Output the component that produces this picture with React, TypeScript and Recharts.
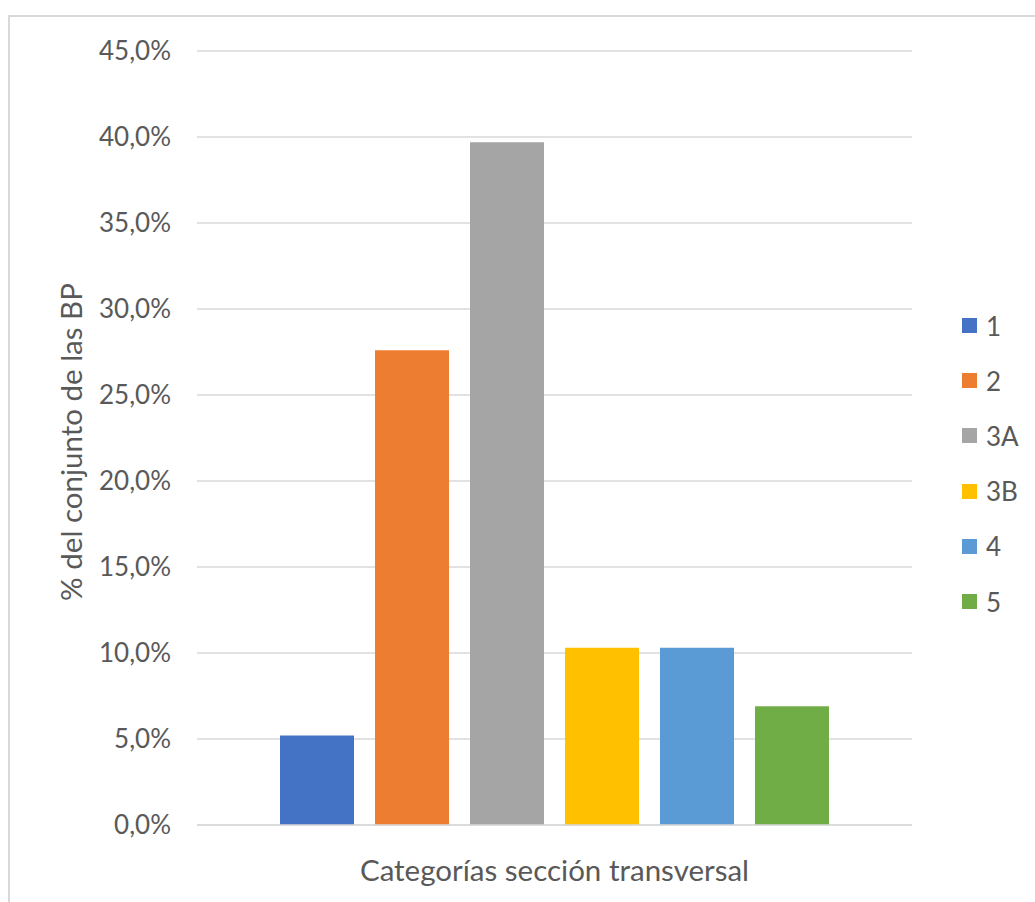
import React from 'react';
import { BarChart, Bar, XAxis, YAxis, CartesianGrid, Legend } from 'recharts';

// Share of the BP set per cross-section category
const categories = ['Categorías sección transversal'];
const seriesNames = ['1', '2', '3A', '3B', '4', '5'];
const seriesValues = [5.2, 27.6, 39.7, 10.3, 10.3, 6.9];
const yTicks = [0, 5, 10, 15, 20, 25, 30, 35, 40, 45];
const yAxisTitle = '% del conjunto de las BP';

const COLORS = ['#4472C4', '#ED7D31', '#A5A5A5', '#FFC000', '#5B9BD5', '#70AD47'];
const FONT = 'Lato, "Open Sans", sans-serif';
const TEXT = '#595959';
const GRID = '#d9d9d9';

const data = categories.map((cat) => {
  const row: Record<string, string | number> = { cat };
  seriesNames.forEach((_, i) => {
    row['s' + i] = seriesValues[i];
  });
  return row;
});

const fmtPct = (v: number) => v.toFixed(1).replace('.', ',') + '%';

const renderLegend = (props: any) => (
  <div style={{ fontFamily: FONT, fontSize: 26, color: TEXT }}>
    {(props.payload || []).map((entry: any) => (
      <div
        key={entry.value}
        style={{ display: 'flex', alignItems: 'center', height: 55.2 }}
      >
        <span
          style={{
            display: 'inline-block',
            width: 15,
            height: 15,
            background: entry.color,
            marginRight: 9,
          }}
        />
        <span style={{ lineHeight: '26px' }}>{entry.value}</span>
      </div>
    ))}
  </div>
);

const renderYTitle = (props: any) => {
  const vb = props.viewBox || {};
  const cx = vb.x - 7;
  const cy = vb.y + vb.height / 2 + 4;
  return (
    <text
      x={cx}
      y={cy}
      transform={`rotate(-90 ${cx} ${cy})`}
      textAnchor="middle"
      dominantBaseline="central"
      fill={TEXT}
      fontFamily={FONT}
      fontSize={29.5}
    >
      {yAxisTitle}
    </text>
  );
};

export default function App() {
  return (
    <div style={{ position: 'absolute', left: 0, top: 0, width: 1035, height: 902, background: '#fff' }}>
      <div
        style={{
          position: 'absolute',
          left: 8,
          top: 15,
          width: 1027,
          height: 887,
          boxSizing: 'border-box',
          borderTop: '2px solid #d9d9d9',
          borderLeft: '2px solid #d9d9d9',
        }}
      />
      <div style={{ position: 'absolute', left: 0, top: 0 }}>
        <BarChart
          width={1035}
          height={902}
          data={data}
          margin={{ top: 51, right: 123, bottom: 17, left: 77 }}
          barSize={74}
          barGap={21}
        >
          <CartesianGrid vertical={false} stroke={GRID} strokeWidth={1.5} />
          <XAxis
            dataKey="cat"
            height={60}
            axisLine={{ stroke: GRID, strokeWidth: 1.5 }}
            tickLine={false}
            tickSize={0}
            tickMargin={35}
            tick={{ fill: TEXT, fontSize: 29.5, fontFamily: FONT }}
          />
          <YAxis
            width={120}
            domain={[0, 45]}
            ticks={yTicks}
            interval={0}
            axisLine={false}
            tickLine={false}
            tickSize={0}
            tickMargin={26}
            tickFormatter={fmtPct}
            tick={{ fill: TEXT, fontSize: 26, fontFamily: FONT }}
            label={{ content: renderYTitle }}
          />
          <Legend
            layout="vertical"
            align="center"
            verticalAlign="middle"
            content={renderLegend}
            wrapperStyle={{ left: 962, top: 298, width: 70 }}
          />
          {seriesNames.map((name, i) => (
            <Bar
              key={name}
              dataKey={'s' + i}
              name={name}
              fill={COLORS[i]}
              isAnimationActive={false}
            />
          ))}
        </BarChart>
      </div>
    </div>
  );
}
